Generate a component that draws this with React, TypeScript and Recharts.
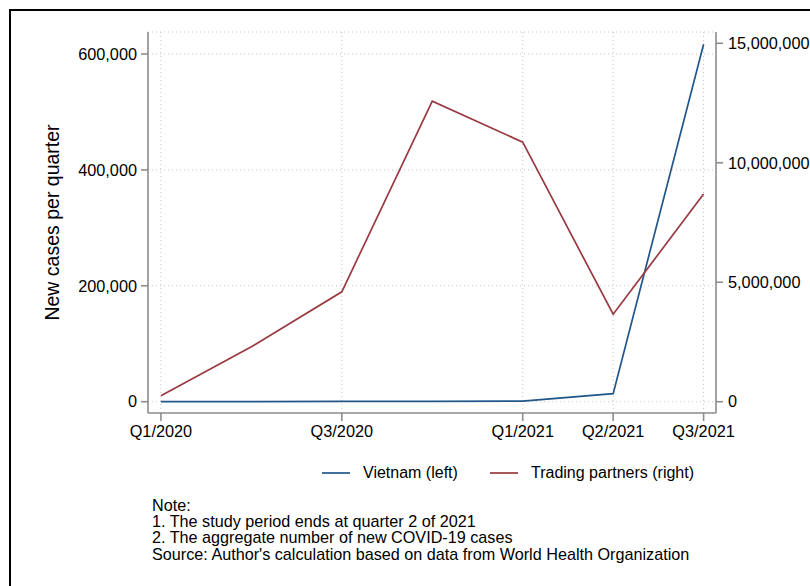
import React from "react";
import { LineChart, Line, XAxis, YAxis, CartesianGrid, Legend } from "recharts";

// Quarter index (0 = Q1/2020 … 6 = Q3/2021)
const quarters = [0, 1, 2, 3, 4, 5, 6];
const quarterLabels = ["Q1/2020", "Q2/2020", "Q3/2020", "Q4/2020", "Q1/2021", "Q2/2021", "Q3/2021"];
const labelledQuarters = [0, 2, 4, 5, 6];

// New COVID-19 cases per quarter
const vietnamCases = [200, 150, 700, 400, 1000, 14000, 617000];
const partnerCases = [251000, 2300000, 4600000, 12580000, 10860000, 3660000, 8690000];

const leftTicks = [0, 200000, 400000, 600000];
const rightTicks = [0, 5000000, 10000000, 15000000];

const notes = [
  "Note:",
  "1. The study period ends at quarter 2 of 2021",
  "2. The aggregate number of new COVID-19 cases",
  "Source: Author's calculation based on data from World Health Organization",
];

const data = quarters.map((q, i) => ({
  q,
  vietnam: vietnamCases[i],
  partners: partnerCases[i],
}));

const FONT = '"Liberation Sans", Arial, Helvetica, sans-serif';
const AXIS = "#8e8e8e";
const GRID = "#c4c4c4";
const BLUE = "#21568a";
const RED = "#983a40";

const fmt = (v: number) => v.toLocaleString("en-US");

const legendItems = [
  { label: "Vietnam (left)", color: BLUE, x: 314 },
  { label: "Trading partners (right)", color: RED, x: 482 },
];

const LegendContent = () => (
  <div style={{ position: "relative", width: 802, height: 24, fontFamily: FONT, fontSize: 16, color: "#000" }}>
    {legendItems.map((it) => (
      <React.Fragment key={it.label}>
        <svg style={{ position: "absolute", left: it.x, top: 11 }} width={28} height={2}>
          <line x1={0} y1={1} x2={28} y2={1} stroke={it.color} strokeWidth={1.7} />
        </svg>
        <span style={{ position: "absolute", left: it.x + 41, top: 2, lineHeight: "20px", whiteSpace: "nowrap" }}>
          {it.label}
        </span>
      </React.Fragment>
    ))}
  </div>
);

export default function App() {
  return (
    <div
      style={{
        position: "fixed",
        left: 0,
        top: 0,
        width: 810,
        height: 586,
        overflow: "hidden",
        background: "#fff",
      }}
    >
      <div
        style={{
          position: "absolute",
          left: 9,
          top: 9,
          width: 900,
          height: 700,
          border: "2px solid #000",
        }}
      />
      <div style={{ position: "absolute", left: 8, top: 8 }}>
        <LineChart
          width={802}
          height={578}
          data={data}
          margin={{ top: 24, right: 0, left: 0, bottom: 143 }}
          style={{ fontFamily: FONT }}
        >
          <CartesianGrid
            yAxisId="left"
            stroke={GRID}
            strokeDasharray="1 3"
            strokeWidth={1}
          />
          <XAxis
            dataKey="q"
            type="number"
            domain={[-0.143, 6.137]}
            allowDataOverflow
            ticks={labelledQuarters}
            tickFormatter={(v: number) => quarterLabels[v]}
            height={30}
            tickSize={8}
            tickMargin={4}
            interval={0}
            stroke={AXIS}
            strokeWidth={1.6}
            tick={{ fill: "#000", fontSize: 16.3 }}
          />
          <YAxis
            yAxisId="left"
            orientation="left"
            width={140}
            domain={[-19500, 638000]}
            allowDataOverflow
            ticks={leftTicks}
            tickFormatter={fmt}
            tickSize={7}
            tickMargin={4}
            interval={0}
            stroke={AXIS}
            strokeWidth={1.6}
            tick={{ fill: "#000", fontSize: 16.3 }}
            label={{
              value: "New cases per quarter",
              angle: -90,
              position: "center",
              dx: -26,
              style: { fill: "#000", fontSize: 19.5, fontFamily: FONT },
            }}
          />
          <YAxis
            yAxisId="right"
            orientation="right"
            width={94}
            domain={[-473000, 15473000]}
            allowDataOverflow
            ticks={rightTicks}
            tickFormatter={fmt}
            tickSize={7}
            tickMargin={5}
            interval={0}
            stroke={AXIS}
            strokeWidth={1.6}
            tick={{ fill: "#000", fontSize: 16.3 }}
          />
          <Line
            yAxisId="left"
            type="linear"
            dataKey="vietnam"
            name="Vietnam (left)"
            stroke={BLUE}
            strokeWidth={1.7}
            dot={false}
            activeDot={false}
            isAnimationActive={false}
          />
          <Line
            yAxisId="right"
            type="linear"
            dataKey="partners"
            name="Trading partners (right)"
            stroke={RED}
            strokeWidth={1.7}
            dot={false}
            activeDot={false}
            isAnimationActive={false}
          />
          <Legend
            layout="horizontal"
            verticalAlign="middle"
            align="center"
            wrapperStyle={{ left: 0, top: 453, width: 802, height: 24 }}
            content={() => <LegendContent />}
          />
        </LineChart>
      </div>
      <div
        style={{
          position: "absolute",
          left: 152,
          top: 497,
          fontFamily: FONT,
          fontSize: 16.2,
          lineHeight: "16.2px",
          color: "#000",
          whiteSpace: "nowrap",
        }}
      >
        {notes.map((n) => (
          <div key={n}>{n}</div>
        ))}
      </div>
    </div>
  );
}
